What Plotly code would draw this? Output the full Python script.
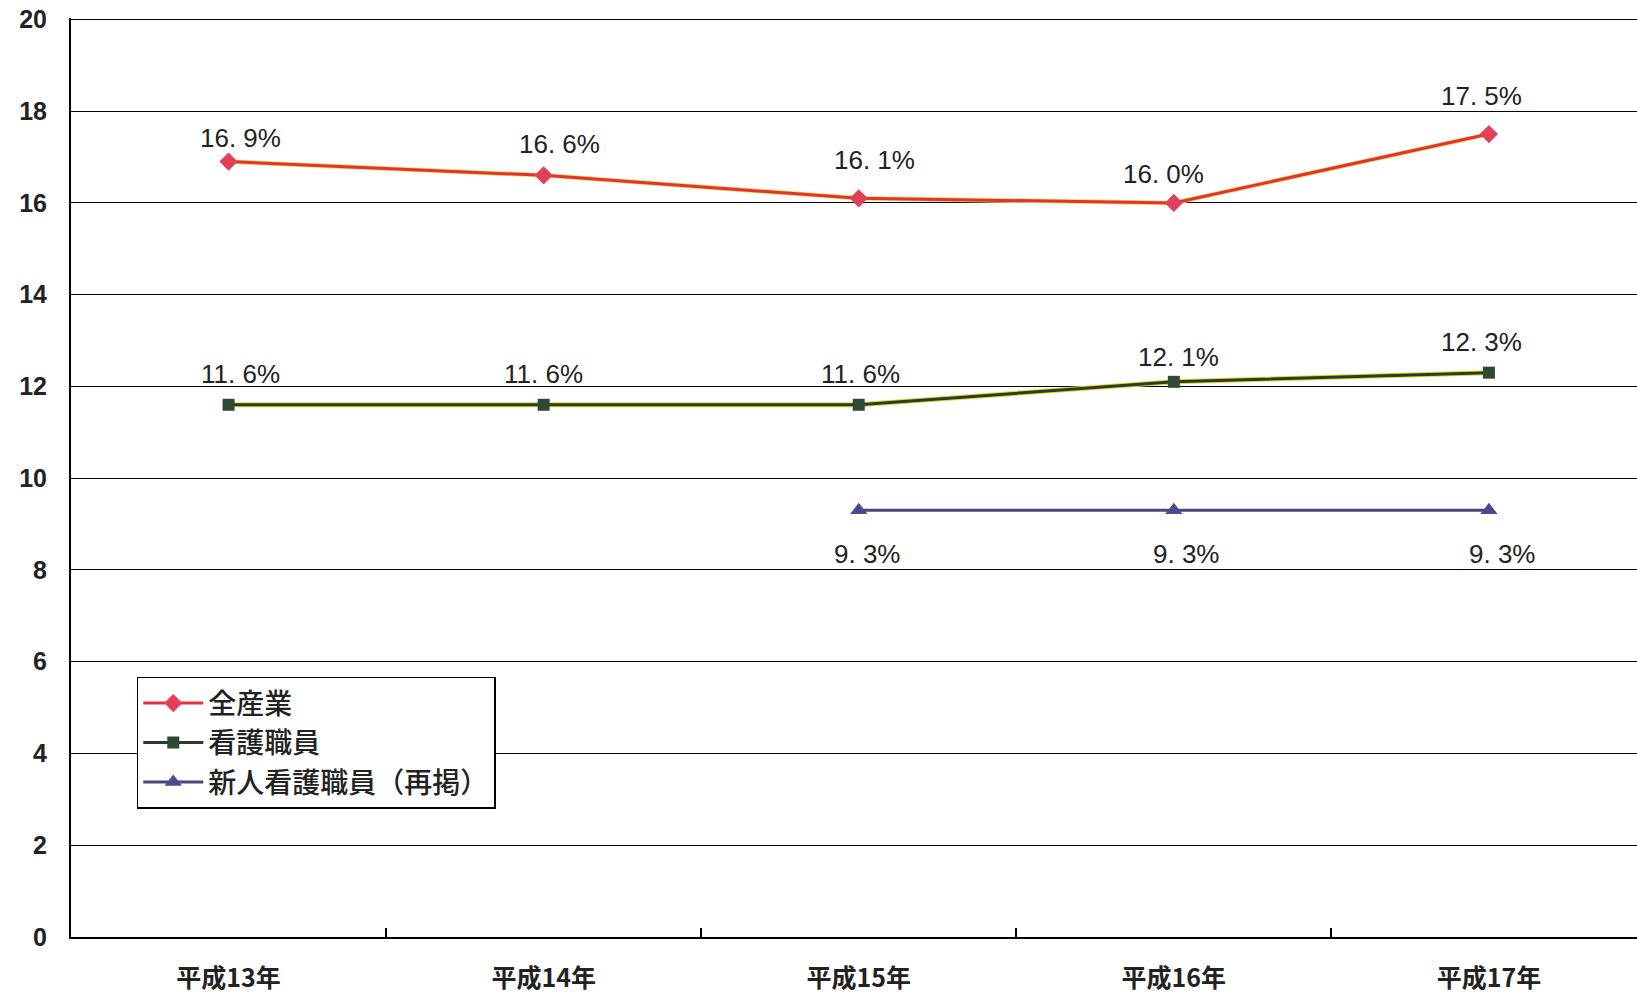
import plotly.graph_objects as go

categories = ["平成13年", "平成14年", "平成15年", "平成16年", "平成17年"]
all_industry = [16.9, 16.6, 16.1, 16.0, 17.5]
nurses = [11.6, 11.6, 11.6, 12.1, 12.3]
new_nurses = [None, None, 9.3, 9.3, 9.3]
series_names = ["全産業", "看護職員", "新人看護職員（再掲）"]
y_ticks = [0, 2, 4, 6, 8, 10, 12, 14, 16, 18, 20]

# label offsets in pixels (style only)
shift_all = [(12, 24), (16, 31), (16, 38), (-10, 29), (-7, 38)]
shift_nurse = [(12, 31), (0, 31), (2, 31), (5, 25), (-7, 31)]
shift_new = [None, None, (9, -44), (13, -44), (14, -44)]

fig = go.Figure()

# yellow underlays (scan-like rim)
fig.add_trace(go.Scatter(x=categories, y=all_industry, mode="lines",
                         line=dict(color="#f0e040", width=4.5), showlegend=False, hoverinfo="skip"))
fig.add_trace(go.Scatter(x=categories, y=nurses, mode="lines",
                         line=dict(color="#d8dc30", width=5), showlegend=False, hoverinfo="skip"))

fig.add_trace(go.Scatter(x=categories, y=all_industry, mode="lines+markers", name=series_names[0],
                         line=dict(color="#e3303c", width=3),
                         marker=dict(symbol="diamond", size=14, color="#e2405a")))
fig.add_trace(go.Scatter(x=categories, y=nurses, mode="lines+markers", name=series_names[1],
                         line=dict(color="#2c3a26", width=3),
                         marker=dict(symbol="square", size=12, color="#2f4a34")))
fig.add_trace(go.Scatter(x=categories, y=new_nurses, mode="lines+markers", name=series_names[2],
                         line=dict(color="#46467a", width=3),
                         marker=dict(symbol="triangle-up", size=15, color="#4a4a8c")))

label_font = dict(family="Liberation Sans, Arial, sans-serif", size=26, color="#222")

def fmt(v):
    s = f"{v:.1f}".replace(".", ". ")
    return s + "%"

for vals, shifts in [(all_industry, shift_all), (nurses, shift_nurse), (new_nurses, shift_new)]:
    for c, v, sh in zip(categories, vals, shifts):
        if v is None:
            continue
        fig.add_annotation(x=c, y=v, text=fmt(v), showarrow=False, font=label_font,
                           xshift=sh[0], yshift=sh[1])

fig.update_layout(
    width=1637, height=993,
    margin=dict(l=71, r=0, t=18, b=56),
    paper_bgcolor="white", plot_bgcolor="white",
    showlegend=True,
    legend=dict(x=0.042, y=0.283, xanchor="left", yanchor="top",
                bgcolor="white", bordercolor="black", borderwidth=1.5,
                font=dict(family="Noto Sans CJK JP", size=28, color="#222", weight=500),
                itemwidth=60, tracegroupgap=0),
)
fig.update_xaxes(type="category", range=[-0.5, 4.47], automargin=False,
                 showline=True, linecolor="black", linewidth=2,
                 showgrid=False, ticks="inside", tickson="boundaries",
                 ticklen=9, tickcolor="black", tickwidth=1.5,
                 ticklabelstandoff=18,
                 tickfont=dict(family="Noto Sans CJK JP", size=25, color="#222", weight="bold"))
fig.update_yaxes(range=[0, 20.03], tickvals=y_ticks, automargin=False,
                 showline=True, linecolor="black", linewidth=2,
                 showgrid=True, gridcolor="black", gridwidth=1.3, zeroline=False,
                 ticks="", ticklabelstandoff=17,
                 tickfont=dict(family="Liberation Sans, Arial, sans-serif", size=25, color="#222", weight="bold"))

fig.write_html("out.html", config={"displayModeBar": False},
               post_script="document.body.style.margin='0';document.body.style.overflow='hidden';")
